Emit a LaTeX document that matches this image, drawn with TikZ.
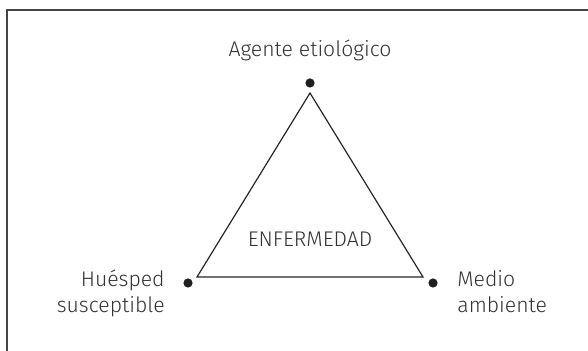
\documentclass[tikz,border=0pt]{standalone}
\usepackage{fontspec}
\setmainfont{Fira Sans}[UprightFont=* Light]
\usepackage{xcolor}
\definecolor{inkgray}{RGB}{50,50,50}
\definecolor{framegray}{RGB}{68,68,68}
\usetikzlibrary{positioning}

\tikzset{
  vertexdot/.style={circle, fill=black!88, inner sep=0pt, minimum size=4.6pt},
  factor/.style={text=inkgray, font=\fontsize{10.6}{13}\selectfont, inner sep=0pt},
}

\begin{document}
\begin{tikzpicture}[x=0.5pt, y=-0.5pt]
  \useasboundingbox (0,0) rectangle (588,351);
  % frame, open at right and bottom
  \draw[framegray, line width=0.8pt] (588,10) -- (7,10) -- (7,351);

  % corners of the triangle
  \coordinate (apex) at (310,93);
  \coordinate (left) at (197,277);
  \coordinate (right) at (423,277);
  \draw[black!85, line width=0.6pt, line join=miter] (apex) -- (left) -- (right) -- cycle;

  % the three factors
  \node[vertexdot] (agente) at (310,83) {};
  \node[vertexdot] (huesped) at (188,283) {};
  \node[vertexdot] (medio) at (433,283) {};

  \node[factor, anchor=base] (agentetxt) at (310,57) {Agente etiológico};
  \node[factor, anchor=base east, align=right] (huespedtxt) at (165,313) {Huésped\\susceptible};
  \node[factor, anchor=base west, align=left] (mediotxt) at (457,313) {Medio\\ambiente};

  \node[factor, anchor=base] (enfermedad) at (310,247) {ENFERMEDAD};
\end{tikzpicture}
\end{document}
